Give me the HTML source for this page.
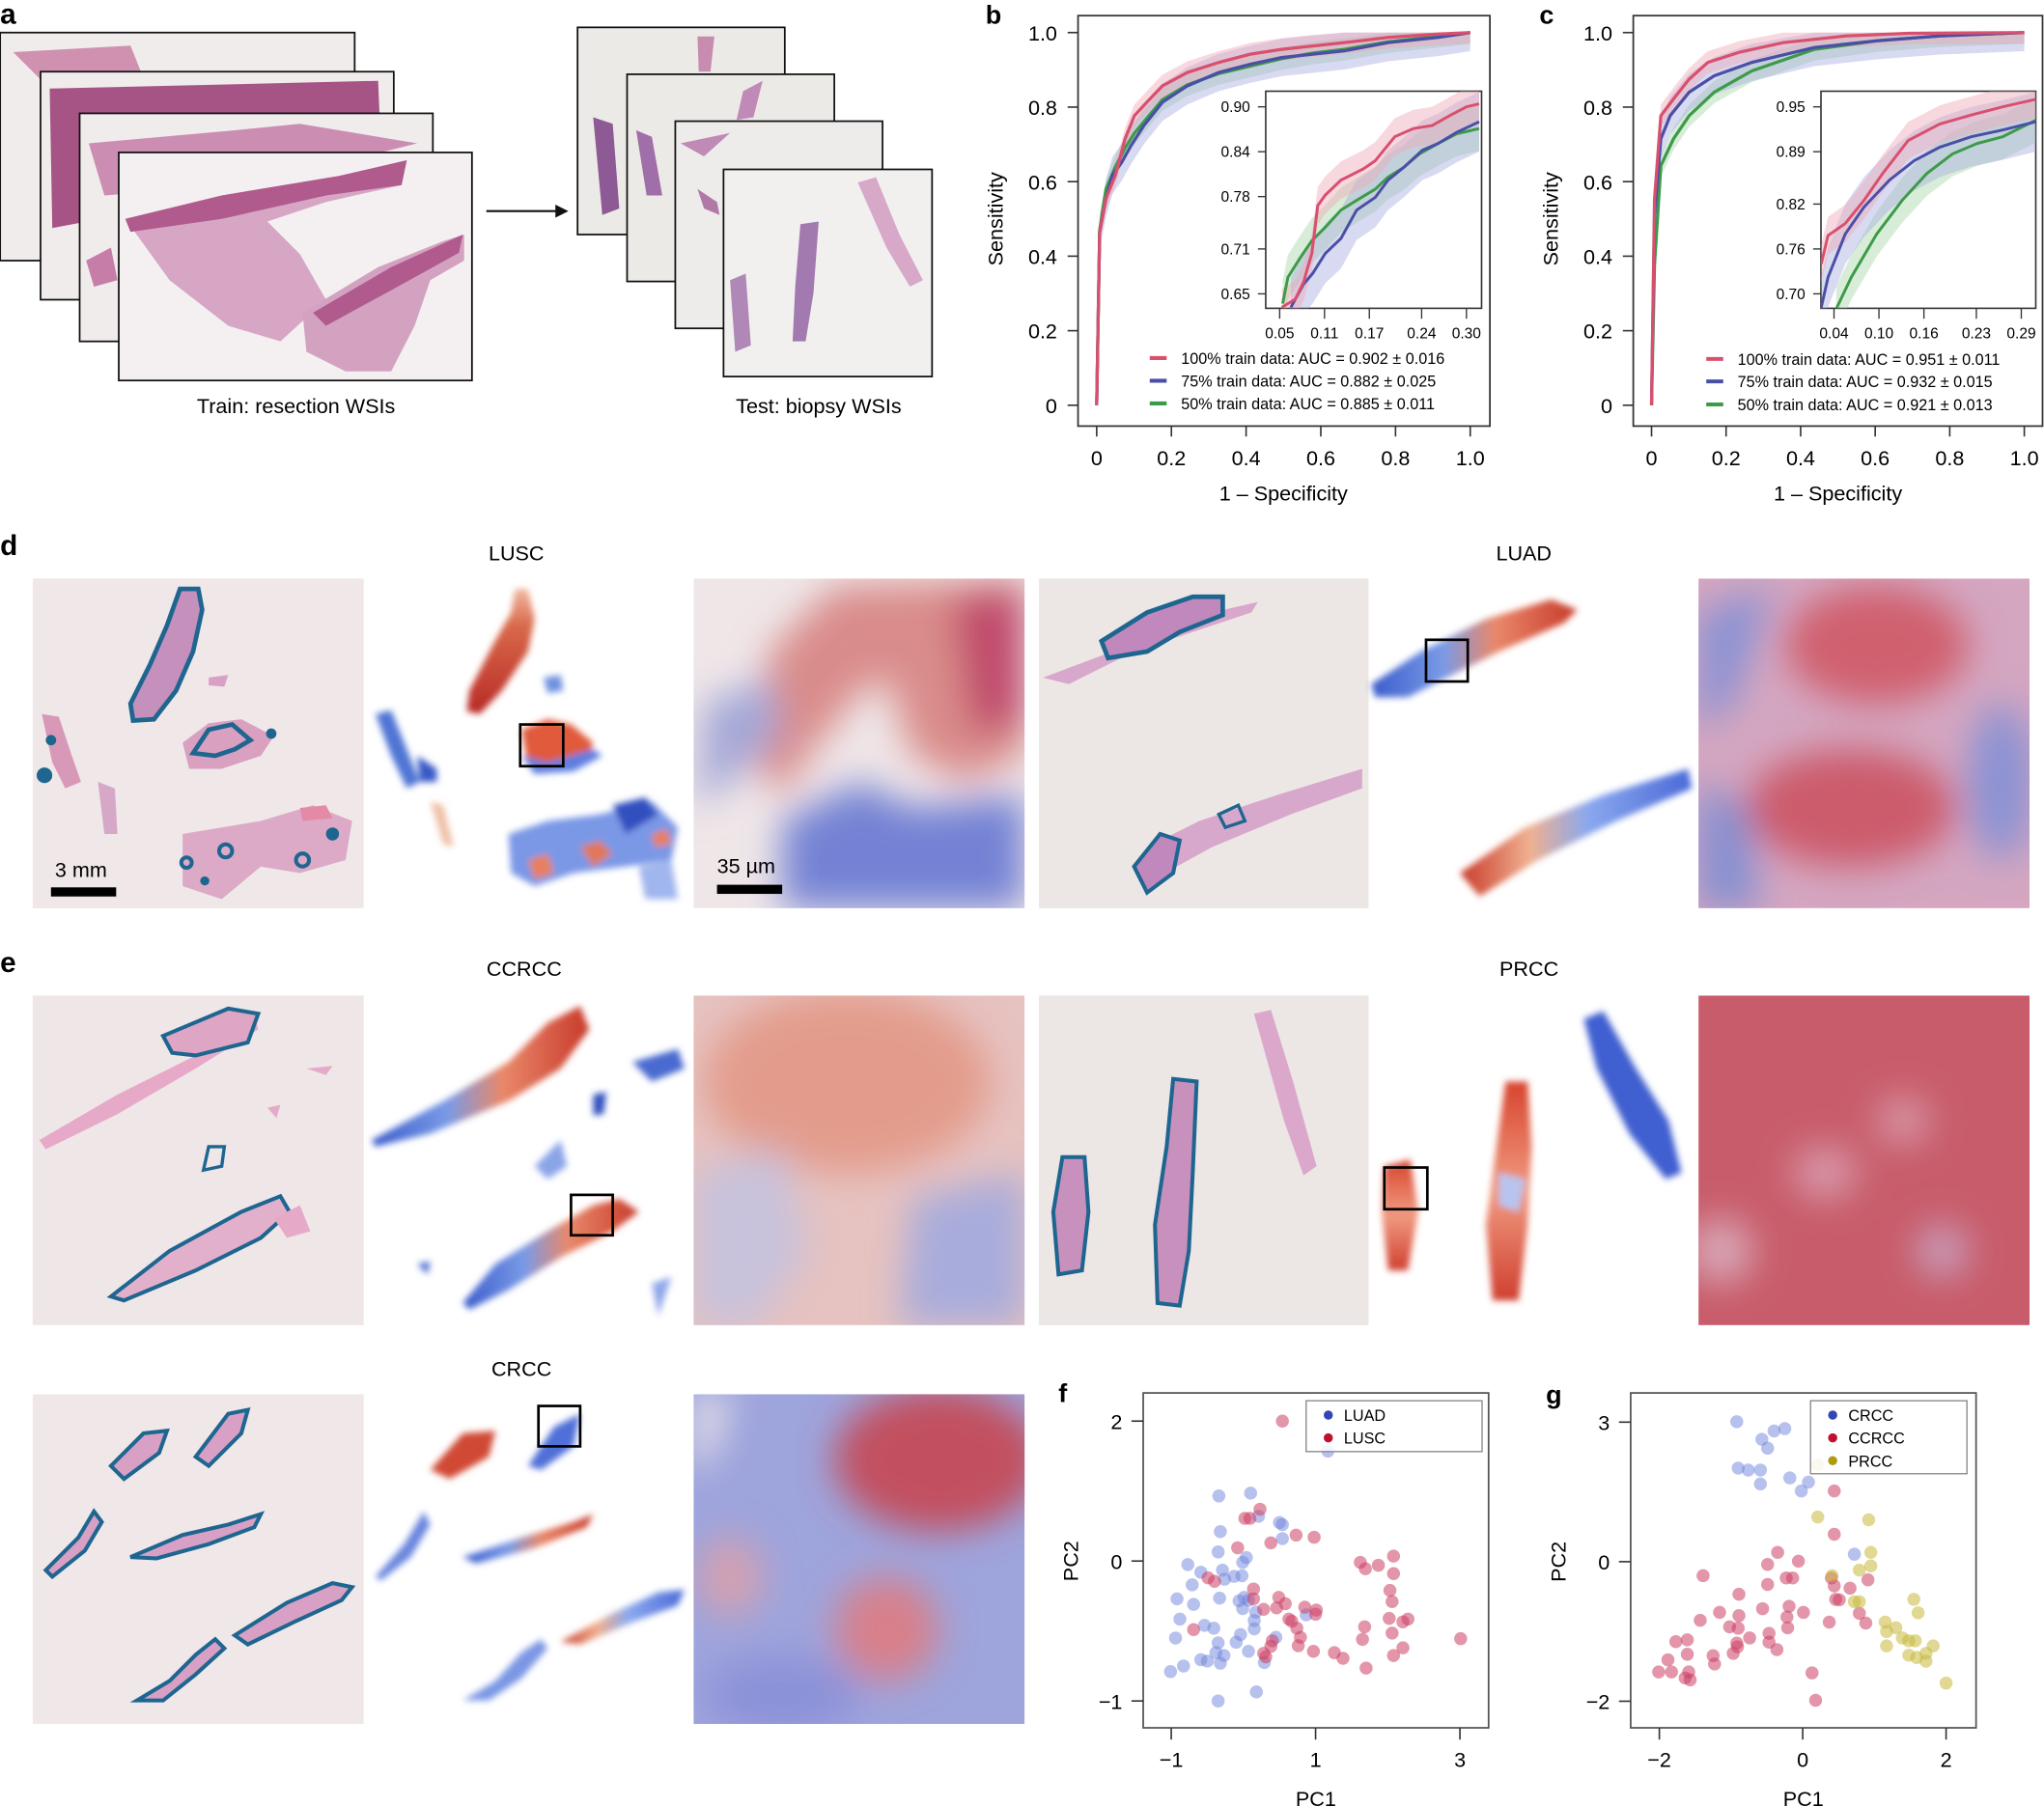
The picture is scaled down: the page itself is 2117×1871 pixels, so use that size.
<!DOCTYPE html>
<html><head><meta charset="utf-8"><style>
html,body{margin:0;padding:0;background:#fff;}
svg{display:block;font-family:"Liberation Sans",Arial,sans-serif;}
</style></head><body>
<svg id="fig" xmlns="http://www.w3.org/2000/svg" width="2117" height="1871" viewBox="0 0 1568 1386">
<defs>
<filter id="bl" x="-20%" y="-20%" width="140%" height="140%"><feGaussianBlur stdDeviation="2.5"/></filter>
<filter id="bl8" x="-30%" y="-30%" width="160%" height="160%"><feGaussianBlur stdDeviation="14"/></filter>
<clipPath id="c1"><rect x="532" y="444" width="254" height="253"/></clipPath>
<clipPath id="c2"><rect x="1303" y="444" width="254" height="253"/></clipPath>
<clipPath id="c3"><rect x="532" y="764" width="254" height="253"/></clipPath>
<clipPath id="c4"><rect x="1303" y="764" width="254" height="253"/></clipPath>
<clipPath id="c5"><rect x="532" y="1070" width="254" height="253"/></clipPath>
<linearGradient id="redstrip" x1="0" y1="0" x2="0" y2="1"><stop offset="0" stop-color="#f0b8a0"/><stop offset="0.3" stop-color="#d8684a"/><stop offset="1" stop-color="#b82a26"/></linearGradient>
<linearGradient id="brband" x1="0" y1="0" x2="1" y2="0"><stop offset="0" stop-color="#3b5ccc"/><stop offset="0.35" stop-color="#7a9ae6"/><stop offset="0.6" stop-color="#e9886a"/><stop offset="1" stop-color="#c83a2a"/></linearGradient>
<linearGradient id="rbband" x1="0" y1="0" x2="1" y2="0"><stop offset="0" stop-color="#c83a2a"/><stop offset="0.3" stop-color="#f0b090"/><stop offset="0.55" stop-color="#8aa8ee"/><stop offset="1" stop-color="#4a6ad8"/></linearGradient>
<linearGradient id="spot" x1="0" y1="0" x2="0" y2="1"><stop offset="0" stop-color="#d8442e"/><stop offset="0.5" stop-color="#f09a80"/><stop offset="1" stop-color="#d04030"/></linearGradient>
</defs>

<!-- panel a -->
<g>
<text x="0" y="18" font-size="22" font-weight="bold">a</text>
<rect x="0" y="25" width="272" height="175" fill="#f0ecec" stroke="#111" stroke-width="1.3"/>
<path d="M10,40 L100,35 L110,60 L40,70 Z" fill="#c77aa0" opacity="0.8"/>
<rect x="31" y="55" width="271" height="175" fill="#f0ecec" stroke="#111" stroke-width="1.3"/>
<path d="M38,68 L290,62 L292,110 L180,120 L120,160 L40,175 Z" fill="#a65485"/>
<rect x="61" y="87" width="271" height="175" fill="#f0ecec" stroke="#111" stroke-width="1.3"/>
<path d="M68,110 L180,100 L230,95 L320,110 L200,140 L80,150 Z" fill="#c67da8" opacity="0.85"/>
<path d="M66,200 L85,190 L90,215 L72,220 Z" fill="#c67da8"/>
<rect x="91" y="117" width="271" height="175" fill="#f4f0f1" stroke="#111" stroke-width="1.3"/>
<path d="M96,168 L170,150 L260,135 L312,123 L308,142 L250,155 L205,170 L230,195 L250,230 L215,262 L175,250 L130,215 Z" fill="#d6a6c4"/>
<path d="M96,168 L170,150 L260,135 L312,123 L308,142 L250,150 L170,168 L100,178 Z" fill="#b05a8e"/>
<path d="M232,240 L290,205 L340,185 L356,180 L356,200 L330,215 L318,250 L300,285 L265,285 L235,270 Z" fill="#d3a2c0"/>
<path d="M240,240 L300,205 L355,180 L352,194 L305,220 L250,250 Z" fill="#b05a8e"/>
<text x="227" y="317" font-size="16" text-anchor="middle">Train: resection WSIs</text>
<line x1="373" y1="162" x2="428" y2="162" stroke="#111" stroke-width="1.5"/>
<path d="M436,162 L426,157 L426,167 Z" fill="#111"/>
<rect x="443" y="21" width="159" height="159" fill="#eceae6" stroke="#111" stroke-width="1.3"/>
<path d="M455,90 L470,95 L475,160 L462,165 Z" fill="#8e5a96"/>
<path d="M535,28 L548,28 L545,55 L536,55 Z" fill="#c88cb0"/>
<rect x="481" y="57" width="159" height="159" fill="#eceae6" stroke="#111" stroke-width="1.3"/>
<path d="M570,70 L585,62 L578,90 L565,92 Z" fill="#c08ab6"/>
<path d="M488,100 L500,105 L508,150 L496,150 Z" fill="#a06ea8"/>
<rect x="518" y="93" width="159" height="159" fill="#eeeceb" stroke="#111" stroke-width="1.3"/>
<path d="M522,110 L560,102 L540,120 Z" fill="#c08ab6"/>
<path d="M535,145 L550,155 L552,165 L540,160 Z" fill="#b07aa8"/>
<rect x="555" y="130" width="160" height="159" fill="#f2f0ef" stroke="#111" stroke-width="1.3"/>
<path d="M560,215 L572,210 L576,265 L564,270 Z" fill="#b088b8"/>
<path d="M614,172 L628,170 L624,225 L618,262 L608,262 L610,220 Z" fill="#a27ab0"/>
<path d="M658,140 L672,136 L690,180 L708,215 L698,220 L680,190 Z" fill="#d7a8c8"/>
<text x="628" y="317" font-size="16" text-anchor="middle">Test: biopsy WSIs</text>
</g>

<text x="756" y="18" font-size="20" font-weight="bold">b</text>
<text x="1181" y="18" font-size="20" font-weight="bold">c</text>
<text x="0" y="426" font-size="22" font-weight="bold">d</text>
<text x="0" y="746" font-size="22" font-weight="bold">e</text>
<text x="812" y="1076" font-size="20" font-weight="bold">f</text>
<text x="1186" y="1077" font-size="20" font-weight="bold">g</text>

<g id="rocB"></g>
<g id="rocC"></g>

<!-- panel d -->
<text x="396" y="430" font-size="16" text-anchor="middle">LUSC</text>
<text x="1169" y="430" font-size="16" text-anchor="middle">LUAD</text>
<g>
<rect x="25" y="444" width="254" height="253" fill="#efe7e8"/>
<path d="M138,452 L152,452 L155,468 L148,500 L135,530 L118,552 L102,553 L100,540 L115,510 L128,480 Z" fill="#c590bc" stroke="#1e6690" stroke-width="3.5"/>
<path d="M140,570 L160,555 L185,552 L210,565 L200,580 L170,590 L145,590 Z" fill="#d9a0c0"/>
<path d="M148,578 L160,560 L178,556 L192,568 L180,575 L165,580 Z" fill="none" stroke="#1e6690" stroke-width="3.5"/>
<circle cx="208" cy="563" r="4" fill="#1e6690"/>
<path d="M160,520 L175,518 L172,527 L160,526 Z" fill="#d8a0c4"/>
<path d="M32,548 L45,550 L55,580 L62,600 L50,605 L40,585 Z" fill="#d898b8"/>
<circle cx="39" cy="568" r="4" fill="#1e6690"/><circle cx="34" cy="595" r="6" fill="#1e6690"/>
<path d="M75,600 L88,605 L90,640 L80,640 Z" fill="#d6a8c8"/>
<path d="M140,640 L200,630 L240,618 L270,630 L265,660 L230,670 L200,665 L170,690 L140,680 Z" fill="#dcaac6"/>
<path d="M230,620 L250,618 L255,628 L232,630 Z" fill="#e58aa6"/>
<circle cx="143" cy="662" r="4" fill="none" stroke="#1e6690" stroke-width="3"/>
<circle cx="173" cy="653" r="5" fill="none" stroke="#1e6690" stroke-width="3"/>
<circle cx="232" cy="660" r="5" fill="none" stroke="#1e6690" stroke-width="3"/>
<circle cx="255" cy="640" r="5" fill="#1e6690"/>
<circle cx="157" cy="676" r="3.5" fill="#1e6690"/>
<rect x="39" y="681" width="50" height="7" fill="#000"/>
<text x="42" y="673" font-size="16">3 mm</text>
</g>
<g>
<rect x="279" y="444" width="253" height="253" fill="#fff"/>
<g filter="url(#bl)">
<path d="M395,452 L405,452 L410,475 L405,500 L385,530 L368,548 L358,546 L360,530 L378,495 L392,470 Z" fill="url(#redstrip)"/>
<path d="M288,548 L300,545 L312,575 L322,600 L312,605 L300,580 Z" fill="#4f74d4"/>
<path d="M320,580 L335,590 L335,600 L322,600 Z" fill="#3858c8"/>
<path d="M330,615 L340,618 L348,650 L340,648 Z" fill="#f0c0a8"/>
<path d="M400,560 L420,552 L438,556 L455,570 L450,585 L430,590 L405,588 Z" fill="#e05a3a"/>
<path d="M400,580 L420,585 L455,575 L462,580 L440,592 L410,594 Z" fill="#5e7ee0"/>
<path d="M417,520 L430,518 L432,530 L420,532 Z" fill="#7090e0"/>
<path d="M390,640 L420,630 L460,625 L500,615 L520,635 L515,660 L480,665 L440,670 L410,680 L392,670 Z" fill="#7a98e6"/>
<path d="M470,618 L495,612 L505,625 L480,640 Z" fill="#3050c0"/>
<path d="M405,660 L420,655 L425,670 L410,675 Z" fill="#e8805e"/>
<path d="M445,650 L460,645 L470,655 L455,665 Z" fill="#e07858"/>
<path d="M490,665 L515,660 L520,690 L495,690 Z" fill="#a0b6ee"/>
<path d="M500,640 L512,636 L515,648 L502,650 Z" fill="#e8805e"/>
</g>
<rect x="399" y="556" width="33" height="32" fill="none" stroke="#000" stroke-width="2"/>
</g>
<g clip-path="url(#c1)">
<rect x="532" y="444" width="254" height="253" fill="#efe6e8"/>
<g filter="url(#bl8)">
<path d="M590,500 L640,450 L786,444 L786,580 L740,600 L700,580 L680,520 L660,530 L620,580 L600,610 L580,590 Z" fill="#d98c8a"/>
<path d="M730,460 L786,450 L786,560 L745,560 Z" fill="#c04a6a"/>
<path d="M540,540 L590,520 L600,560 L560,600 L535,620 Z" fill="#a4a8d8"/>
<path d="M600,630 L660,600 L700,620 L786,610 L786,697 L600,697 Z" fill="#7382d4"/>
</g>
<rect x="550" y="679" width="50" height="7" fill="#000"/>
<text x="550" y="670" font-size="16">35 µm</text>
</g>
<g>
<rect x="797" y="444" width="253" height="253" fill="#ece7e4"/>
<path d="M800,520 L840,505 L880,490 L930,470 L965,462 L960,470 L900,490 L860,505 L820,525 Z" fill="#d8a8cc"/>
<path d="M845,492 L880,470 L915,458 L938,458 L938,472 L905,485 L880,500 L850,505 Z" fill="#c088bc" stroke="#1e6690" stroke-width="3.5"/>
<path d="M880,650 L920,630 L980,610 L1045,590 L1045,605 L990,625 L930,650 L890,672 Z" fill="#d8a8cc"/>
<path d="M870,665 L890,640 L905,645 L900,670 L880,685 Z" fill="#c088bc" stroke="#1e6690" stroke-width="3"/>
<path d="M935,625 L950,618 L955,630 L940,635 Z" fill="none" stroke="#1e6690" stroke-width="2.5"/>
</g>
<g>
<rect x="1050" y="444" width="253" height="253" fill="#fff"/>
<g filter="url(#bl)">
<path d="M1052,525 L1090,500 L1140,475 L1190,460 L1210,468 L1200,478 L1150,500 L1110,520 L1080,535 L1055,535 Z" fill="url(#brband)"/>
<path d="M1120,670 L1170,635 L1230,610 L1295,590 L1298,605 L1240,630 L1180,660 L1135,688 Z" fill="url(#rbband)"/>
</g>
<rect x="1094" y="491" width="32" height="32" fill="none" stroke="#000" stroke-width="2"/>
</g>
<g clip-path="url(#c2)">
<rect x="1303" y="444" width="254" height="253" fill="#d4a6c0"/>
<g filter="url(#bl8)">
<path d="M1303,470 L1360,450 L1330,540 L1303,560 Z" fill="#8a92d4"/>
<path d="M1303,600 L1340,620 L1350,697 L1303,697 Z" fill="#8490d2"/>
<ellipse cx="1440" cy="495" rx="70" ry="45" fill="#d0606e"/>
<ellipse cx="1420" cy="620" rx="80" ry="45" fill="#cc5c6c"/>
<ellipse cx="1535" cy="600" rx="25" ry="60" fill="#8a92d4"/>
</g>
</g>

<!-- panel e -->
<text x="402" y="749" font-size="16" text-anchor="middle">CCRCC</text>
<text x="1173" y="749" font-size="16" text-anchor="middle">PRCC</text>
<g>
<rect x="25" y="764" width="254" height="253" fill="#efe6e8"/>
<path d="M30,875 L90,840 L150,810 L195,778 L198,790 L150,820 L90,855 L35,882 Z" fill="#e6aac8"/>
<path d="M125,795 L175,774 L198,778 L190,800 L150,810 L132,808 Z" fill="#dea6c4" stroke="#1e6690" stroke-width="3"/>
<path d="M160,880 L172,880 L170,895 L156,898 Z" fill="none" stroke="#1e6690" stroke-width="2.5"/>
<path d="M85,995 L130,960 L185,930 L215,918 L222,930 L200,950 L150,975 L95,998 Z" fill="#e3b0cc" stroke="#1e6690" stroke-width="3"/>
<path d="M210,935 L230,925 L238,945 L220,950 Z" fill="#e6aac8"/>
<path d="M235,820 L255,818 L250,825 Z" fill="#e6aac8"/>
<path d="M205,850 L215,848 L212,858 Z" fill="#e6aac8"/>
</g>
<g>
<rect x="279" y="764" width="253" height="253" fill="#fff"/>
<g filter="url(#bl)">
<path d="M285,875 L340,845 L390,815 L420,785 L445,772 L452,790 L430,820 L390,845 L330,870 L288,880 Z" fill="url(#brband)"/>
<path d="M355,1000 L380,970 L420,945 L455,925 L475,920 L490,930 L470,945 L430,965 L390,990 L360,1005 Z" fill="url(#brband)"/>
<path d="M485,815 L520,805 L525,820 L500,830 Z" fill="#4a6ad0"/>
<path d="M455,840 L465,838 L463,855 L455,856 Z" fill="#3050c0"/>
<path d="M410,895 L430,875 L435,895 L420,905 Z" fill="#8aa4e8"/>
<path d="M500,985 L515,980 L505,1010 Z" fill="#90a8ea"/>
<path d="M320,970 L330,968 L328,978 Z" fill="#5070d0"/>
</g>
<rect x="438" y="917" width="32" height="31" fill="none" stroke="#000" stroke-width="2"/>
</g>
<g clip-path="url(#c3)">
<rect x="532" y="764" width="254" height="253" fill="#e6c2c0"/>
<g filter="url(#bl8)">
<ellipse cx="650" cy="830" rx="110" ry="70" fill="#e39c8c"/>
<path d="M532,900 L600,880 L620,960 L580,1017 L532,1017 Z" fill="#c8c2dc"/>
<path d="M700,920 L786,900 L786,1017 L690,1017 Z" fill="#a8acdc"/>
</g>
</g>
<g>
<rect x="797" y="764" width="253" height="253" fill="#ece6e5"/>
<path d="M815,888 L832,888 L835,930 L830,975 L812,978 L808,930 Z" fill="#c890bc" stroke="#1e6690" stroke-width="3"/>
<path d="M900,828 L918,830 L915,900 L912,960 L905,1002 L888,1000 L886,940 L895,880 Z" fill="#c890bc" stroke="#1e6690" stroke-width="3"/>
<path d="M962,778 L975,775 L992,830 L1010,895 L1000,902 L985,860 Z" fill="#dba8cc"/>
</g>
<g>
<rect x="1050" y="764" width="253" height="253" fill="#fff"/>
<g filter="url(#bl)">
<path d="M1215,782 L1230,776 L1255,820 L1280,860 L1290,900 L1278,905 L1250,870 L1225,820 Z" fill="#3f5fd0"/>
<path d="M1062,895 L1082,890 L1088,930 L1080,975 L1065,975 L1060,930 Z" fill="url(#spot)"/>
<path d="M1155,830 L1172,830 L1175,880 L1172,940 L1165,998 L1145,998 L1140,940 L1148,880 Z" fill="url(#spot)"/>
<path d="M1150,900 L1170,905 L1165,930 L1150,925 Z" fill="#b8c4ee"/>
</g>
<rect x="1062" y="896" width="33" height="32" fill="none" stroke="#000" stroke-width="2"/>
</g>
<g clip-path="url(#c4)">
<rect x="1303" y="764" width="254" height="253" fill="#c85c6a"/>
<g filter="url(#bl8)">
<ellipse cx="1400" cy="900" rx="25" ry="20" fill="#d89aaa"/>
<ellipse cx="1460" cy="860" rx="20" ry="18" fill="#d89aaa"/>
<ellipse cx="1490" cy="960" rx="20" ry="20" fill="#c8a0c0"/>
<ellipse cx="1320" cy="960" rx="25" ry="25" fill="#d8a8b8"/>
</g>
</g>
<text x="400" y="1056" font-size="16" text-anchor="middle">CRCC</text>
<g>
<rect x="25" y="1070" width="254" height="253" fill="#efe7e8"/>
<g fill="#d8a0c4" stroke="#1e6690" stroke-width="3">
<path d="M85,1125 L110,1100 L128,1098 L122,1115 L95,1135 Z"/>
<path d="M150,1118 L175,1085 L190,1082 L185,1100 L160,1125 Z"/>
<path d="M35,1205 L60,1180 L72,1160 L78,1168 L65,1190 L40,1210 Z"/>
<path d="M100,1195 L140,1178 L175,1170 L200,1162 L195,1172 L160,1185 L120,1196 Z"/>
<path d="M105,1305 L130,1290 L150,1270 L165,1258 L172,1265 L150,1285 L125,1305 Z"/>
<path d="M180,1255 L220,1230 L255,1215 L270,1218 L262,1228 L225,1245 L190,1262 Z"/>
</g>
</g>
<g>
<rect x="279" y="1070" width="253" height="253" fill="#fff"/>
<g filter="url(#bl)">
<path d="M330,1128 L355,1100 L380,1098 L375,1118 L345,1135 Z" fill="#d04a34"/>
<path d="M405,1125 L425,1095 L445,1085 L440,1110 L415,1128 Z" fill="#5070d8"/>
<path d="M288,1210 L310,1185 L325,1160 L330,1170 L315,1195 L292,1213 Z" fill="#6a86de"/>
<path d="M355,1195 L400,1180 L440,1168 L455,1162 L450,1172 L410,1188 L365,1200 Z" fill="url(#brband)"/>
<path d="M355,1305 L380,1290 L400,1268 L415,1258 L420,1265 L400,1288 L375,1305 Z" fill="#7a96e4"/>
<path d="M430,1260 L470,1238 L505,1222 L525,1220 L520,1232 L485,1245 L445,1262 Z" fill="url(#rbband)"/>
</g>
<rect x="413" y="1079" width="32" height="31" fill="none" stroke="#000" stroke-width="2"/>
</g>
<g clip-path="url(#c5)">
<rect x="532" y="1070" width="254" height="253" fill="#9ea4dc"/>
<g filter="url(#bl8)">
<ellipse cx="720" cy="1120" rx="80" ry="55" fill="#c2505e"/>
<ellipse cx="680" cy="1250" rx="40" ry="40" fill="#d8808a"/>
<ellipse cx="560" cy="1210" rx="25" ry="30" fill="#d4a0b0"/>
<path d="M532,1070 L560,1070 L545,1120 L532,1130 Z" fill="#eee8ea"/>
<ellipse cx="600" cy="1300" rx="60" ry="30" fill="#8c92d8"/>
</g>
</g>

<g id="pcaF"></g>
<g id="pcaG"></g>
</svg>

<script>
// ---------- ROC data (panel b) ----------
const bFpr100=[0,0.008,0.025,0.050,0.076,0.101,0.134,0.176,0.243,0.327,0.411,0.495,0.579,0.663,0.780,0.914,1];
const bTpr100=[0,0.465,0.555,0.617,0.715,0.777,0.813,0.857,0.893,0.920,0.942,0.955,0.964,0.973,0.987,0.996,1];
const bFpr75=[0,0.008,0.025,0.042,0.067,0.092,0.126,0.176,0.243,0.327,0.411,0.495,0.579,0.663,0.780,0.914,1];
const bTpr75=[0,0.465,0.554,0.617,0.652,0.697,0.750,0.813,0.857,0.893,0.915,0.933,0.942,0.951,0.973,0.987,1];
const bFpr50=[0,0.008,0.025,0.05,0.076,0.101,0.134,0.176,0.243,0.327,0.411,0.495,0.579,0.663,0.780,0.914,1];
const bTpr50=[0,0.47,0.58,0.64,0.69,0.73,0.77,0.82,0.86,0.89,0.91,0.93,0.945,0.955,0.975,0.99,1];
const bInFpr100=[0.053,0.071,0.082,0.093,0.101,0.111,0.132,0.162,0.178,0.204,0.229,0.254,0.279,0.300,0.317];
const bInTpr100=[0.632,0.643,0.666,0.704,0.768,0.782,0.802,0.817,0.828,0.860,0.871,0.875,0.889,0.900,0.904];
const bInFpr75=[0.065,0.082,0.094,0.111,0.132,0.153,0.178,0.195,0.216,0.241,0.262,0.287,0.317];
const bInTpr75=[0.632,0.663,0.677,0.704,0.724,0.762,0.779,0.802,0.819,0.842,0.851,0.866,0.880];
const bInFpr50=[0.054,0.061,0.078,0.093,0.111,0.132,0.153,0.178,0.195,0.216,0.237,0.262,0.287,0.317];
const bInTpr50=[0.637,0.672,0.699,0.721,0.739,0.762,0.775,0.790,0.806,0.819,0.837,0.851,0.864,0.871];
const bLegend=["100% train data: AUC = 0.902 \u00b1 0.016","75% train data: AUC = 0.882 \u00b1 0.025","50% train data: AUC = 0.885 \u00b1 0.011"];
const bInXTicks=[0.05,0.11,0.17,0.24,0.30];
const bInXLabels=["0.05","0.11","0.17","0.24","0.30"];
const bInYTicks=[0.65,0.71,0.78,0.84,0.90];
const bInYLabels=["0.65","0.71","0.78","0.84","0.90"];
// ---------- ROC data (panel c) ----------
const cFpr100=[0,0.008,0.025,0.059,0.101,0.151,0.235,0.353,0.521,0.689,1];
const cTpr100=[0,0.554,0.777,0.822,0.875,0.920,0.947,0.973,0.991,0.998,1];
const cFpr75=[0,0.008,0.025,0.050,0.101,0.168,0.269,0.437,0.605,0.773,1];
const cTpr75=[0,0.51,0.715,0.777,0.840,0.884,0.920,0.960,0.978,0.991,1];
const cFpr50=[0,0.008,0.025,0.059,0.101,0.168,0.269,0.437,0.605,0.773,1];
const cTpr50=[0,0.376,0.643,0.715,0.777,0.840,0.897,0.955,0.978,0.991,1];
const cInFpr100=[0.023,0.032,0.055,0.080,0.105,0.139,0.181,0.223,0.265,0.309];
const cInTpr100=[0.740,0.778,0.794,0.825,0.861,0.905,0.927,0.939,0.950,0.960];
const cInFpr75=[0.023,0.032,0.055,0.080,0.114,0.147,0.181,0.223,0.265,0.309];
const cInTpr75=[0.682,0.722,0.780,0.816,0.852,0.878,0.896,0.910,0.919,0.930];
const cInFpr50=[0.043,0.063,0.097,0.131,0.164,0.198,0.231,0.265,0.309];
const cInTpr50=[0.680,0.722,0.780,0.825,0.861,0.887,0.901,0.910,0.932];
const cLegend=["100% train data: AUC = 0.951 \u00b1 0.011","75% train data: AUC = 0.932 \u00b1 0.015","50% train data: AUC = 0.921 \u00b1 0.013"];
const cInXTicks=[0.04,0.10,0.16,0.23,0.29];
const cInXLabels=["0.04","0.10","0.16","0.23","0.29"];
const cInYTicks=[0.70,0.76,0.82,0.89,0.95];
const cInYLabels=["0.70","0.76","0.82","0.89","0.95"];
const mainXTicks=[0,0.2,0.4,0.6,0.8,1.0];
const mainXLabels=["0","0.2","0.4","0.6","0.8","1.0"];
const mainYTicks=[0,0.2,0.4,0.6,0.8,1.0];
const mainYLabels=["0","0.2","0.4","0.6","0.8","1.0"];
const seriesNames=["100pct","75pct","50pct"];
// ---------- PCA data (panel f) ----------
const fLuadX=[-0.34,0.10,0.21,-0.32,0.50,0.54,0.54,-0.35,0.04,-0.01,-0.77,-0.59,-0.29,-0.13,-0.02,-0.71,-0.26,-0.92,-0.69,-0.33,-0.06,0.01,0.07,-0.01,0.17,0.15,-0.88,-0.54,-0.41,0.15,-0.94,-0.35,-0.04,-0.10,0.07,0.45,-0.38,-0.59,-0.50,-0.27,-0.32,0.29,-0.83,-1.01,0.18,-0.35,0.87,1.17];
const fLuadY=[0.93,0.97,0.64,0.42,0.55,0.52,0.32,0.13,0.05,-0.02,-0.05,-0.16,-0.13,-0.22,-0.21,-0.34,-0.26,-0.54,-0.62,-0.53,-0.57,-0.52,-0.56,-0.68,-0.73,-0.85,-0.83,-0.92,-0.96,-0.97,-1.10,-1.17,-1.05,-1.16,-1.29,-1.09,-1.31,-1.41,-1.43,-1.35,-1.46,-1.45,-1.50,-1.58,-1.87,-2.0,-0.77,1.57];
const fLuscX=[0.54,0.23,0.02,0.09,0.73,0.98,0.38,-0.08,-0.49,-0.40,0.14,0.14,0.49,0.58,0.46,0.28,0.85,1.01,1.00,0.63,0.67,0.74,0.79,0.76,0.40,0.38,0.28,0.31,-0.69,0.97,1.26,1.38,1.62,1.69,1.87,2.08,2.08,2.03,2.06,2.02,2.28,2.21,1.68,1.65,2.06,2.21,2.08,1.70,3.01];
const fLuscY=[2.0,0.74,0.61,0.61,0.37,0.34,0.26,0.19,-0.24,-0.29,-0.40,-0.54,-0.52,-0.61,-0.67,-0.69,-0.66,-0.70,-0.76,-0.83,-0.86,-0.96,-1.09,-1.21,-1.14,-1.22,-1.32,-1.37,-0.98,-1.29,-1.31,-1.39,-0.02,-0.11,-0.06,0.07,-0.18,-0.42,-0.58,-0.82,-0.83,-0.87,-0.94,-1.12,-1.03,-1.24,-1.35,-1.53,-1.11];
const fXTicks=[-1,1,3]; const fXLabels=["\u22121","1","3"];
const fYTicks=[2,0,-2]; const fYLabels=["2","0","\u22121"];
// ---------- PCA data (panel g) ----------
const gCrccX=[-0.92,-0.40,-0.25,-0.57,-0.49,-0.90,-0.76,-0.59,-0.59,-0.18,0.08,-0.02,0.72];
const gCrccY=[3.01,2.81,2.86,2.63,2.44,2.01,1.97,1.97,1.67,1.80,1.71,1.52,0.16];
const gCcrccX=[0.44,0.44,-0.35,-0.06,-0.49,-1.39,-0.23,-0.14,-0.49,0.40,0.44,-0.89,0.46,0.51,0.66,0.91,-1.16,-0.56,-0.19,0.01,-0.89,-0.22,-1.43,-1.02,-0.90,-0.21,0.37,0.88,-0.74,-0.47,-0.47,-0.92,-0.91,-1.77,-1.61,-0.36,-0.97,-1.25,-1.61,-1.88,-1.23,-2.01,-1.83,-1.59,-1.64,-1.57,0.13,0.18,0.79];
const gCcrccY=[1.52,0.59,0.20,0.01,-0.06,-0.30,-0.35,-0.35,-0.49,-0.35,-0.52,-0.70,-0.81,-0.82,-0.57,-0.39,-1.09,-1.01,-0.96,-1.09,-1.16,-1.19,-1.26,-1.40,-1.43,-1.42,-1.30,-1.32,-1.64,-1.54,-1.73,-1.75,-1.83,-1.72,-1.68,-1.89,-1.97,-2.02,-1.99,-2.11,-2.20,-2.37,-2.37,-2.37,-2.50,-2.54,-2.39,-2.98,-1.11];
const gPrccX=[0.21,0.21,0.92,0.95,0.95,0.79,0.41,0.72,0.79,1.55,1.61,1.15,1.17,1.30,1.39,1.48,1.57,1.17,1.82,1.48,1.59,1.72,1.72,2.00];
const gPrccY=[2.08,0.96,0.90,0.20,-0.09,-0.18,-0.30,-0.86,-0.86,-0.81,-1.10,-1.30,-1.50,-1.42,-1.64,-1.70,-1.70,-1.81,-1.81,-2.01,-2.06,-1.97,-2.14,-2.61];
const gXTicks=[-2,0,2]; const gXLabels=["\u22122","0","2"];
const gYTicks=[3,0,-3]; const gYLabels=["3","0","\u22122"];

const NS="http://www.w3.org/2000/svg";
function mk(tag,attrs,parent){const e=document.createElementNS(NS,tag);for(const k in attrs)e.setAttribute(k,attrs[k]);parent.appendChild(e);return e;}
function lin(d0,d1,r0,r1){return v=>r0+(v-d0)/(d1-d0)*(r1-r0);}
const COLORS=["#d8506e","#4a4fa6","#3d9a48"];
const BAND=["#f0a8b8","#a8aee0","#a8d8a8"];

function drawRoc(g,cfg){
  const sx=lin(0,1,cfg.x0,cfg.x1), sy=lin(0,1,cfg.y0,cfg.y1);
  const box=mk("rect",{x:cfg.bx0,y:cfg.by0,width:cfg.bx1-cfg.bx0,height:cfg.by1-cfg.by0,fill:"none",stroke:"#333","stroke-width":1.3},g);
  
  
  mainXTicks.forEach((t,i)=>{
    const l=mk("line",{x1:sx(t),x2:sx(t),y1:cfg.by1,y2:cfg.by1+8,stroke:"#333","stroke-width":1.2},g);
    
    
    const tx=mk("text",{x:sx(t),y:cfg.by1+30,"font-size":16,"text-anchor":"middle"},g);tx.textContent=mainXLabels[i];
    
    
  });
  mainYTicks.forEach((t,i)=>{
    const l=mk("line",{x1:cfg.bx0-8,x2:cfg.bx0,y1:sy(t),y2:sy(t),stroke:"#333","stroke-width":1.2},g);
    
    
    const tx=mk("text",{x:cfg.bx0-16,y:sy(t)+6,"font-size":16,"text-anchor":"end"},g);tx.textContent=mainYLabels[i];
    
    
  });
  const xl=mk("text",{x:(cfg.x0+cfg.x1)/2,y:cfg.by1+57,"font-size":16,"text-anchor":"middle"},g);xl.textContent="1 \u2013 Specificity";
  
  
  const yl=mk("text",{x:0,y:0,"font-size":16,"text-anchor":"middle",transform:`translate(${cfg.bx0-58},${(cfg.y0+cfg.y1)/2}) rotate(-90)`},g);yl.textContent="Sensitivity";
  
  
  const bw=[0.03,0.05,0.03];
  [2,1,0].forEach(i=>{
    const xs=cfg.fpr[i],ys=cfg.tpr[i];
    let up=xs.map((x,j)=>sx(x)+","+sy(Math.min(1,ys[j]+bw[i]))).join(" ");
    let lo=xs.map((x,j)=>sx(x)+","+sy(Math.max(0,ys[j]-bw[i]))).reverse().join(" ");
    const b=mk("polygon",{points:up+" "+lo,fill:BAND[i],opacity:0.45},g);
    
    
  });
  [2,1,0].forEach(i=>{
    const pts=cfg.fpr[i].map((x,j)=>sx(x)+","+sy(cfg.tpr[i][j])).join(" ");
    const p=mk("polyline",{points:pts,fill:"none",stroke:COLORS[i],"stroke-width":2.4},g);
    
    
  });
  const ix=lin(cfg.ixt[0],cfg.ixt[cfg.ixt.length-1],cfg.ix0,cfg.ix1);
  const iy=lin(cfg.iyt[0],cfg.iyt[cfg.iyt.length-1],cfg.iy0,cfg.iy1);
  const ib=mk("rect",{x:cfg.ibx0,y:cfg.iby0,width:cfg.ibx1-cfg.ibx0,height:cfg.iby1-cfg.iby0,fill:"#fff",stroke:"#333","stroke-width":1.2},g);
  
  
  const cp=mk("clipPath",{id:cfg.id+"clip"},g);
  mk("rect",{x:cfg.ibx0,y:cfg.iby0,width:cfg.ibx1-cfg.ibx0,height:cfg.iby1-cfg.iby0},cp);
  const ig=mk("g",{"clip-path":`url(#${cfg.id}clip)`},g);
  
  
  const ibw=[0.025,0.04,0.03];
  [2,1,0].forEach(i=>{
    const xs=cfg.ifpr[i],ys=cfg.itpr[i];
    let up=xs.map((x,j)=>ix(x)+","+iy(ys[j]+ibw[i])).join(" ");
    let lo=xs.map((x,j)=>ix(x)+","+iy(ys[j]-ibw[i])).reverse().join(" ");
    const b=mk("polygon",{points:up+" "+lo,fill:BAND[i],opacity:0.45},ig);
    
    
  });
  [2,1,0].forEach(i=>{
    const pts=cfg.ifpr[i].map((x,j)=>ix(x)+","+iy(cfg.itpr[i][j])).join(" ");
    const p=mk("polyline",{points:pts,fill:"none",stroke:COLORS[i],"stroke-width":2.2},ig);
    
    
  });
  cfg.ixt.forEach((t,i)=>{
    const l=mk("line",{x1:ix(t),x2:ix(t),y1:cfg.iby1,y2:cfg.iby1+8,stroke:"#333"},g);
    
    
    const tx=mk("text",{x:ix(t),y:cfg.iby1+23,"font-size":11.5,"text-anchor":"middle"},g);tx.textContent=cfg.ixl[i];
    
    
  });
  cfg.iyt.forEach((t,i)=>{
    const l=mk("line",{x1:cfg.ibx0-6,x2:cfg.ibx0,y1:iy(t),y2:iy(t),stroke:"#333"},g);
    
    
    const tx=mk("text",{x:cfg.ibx0-12,y:iy(t)+4,"font-size":11.5,"text-anchor":"end"},g);tx.textContent=cfg.iyl[i];
    
    
  });
  cfg.legend.forEach((s,i)=>{
    const y=cfg.legY[i];
    const l=mk("line",{x1:cfg.legX,x2:cfg.legX+13,y1:y,y2:y,stroke:COLORS[i],"stroke-width":3},g);
    
    
    const tx=mk("text",{x:cfg.legX+24,y:y+4.5,"font-size":12},g);tx.textContent=s;
    
    
  });
}
drawRoc(document.getElementById("rocB"),{id:"b",x0:841.3,x1:1127.9,y0:311,y1:25,bx0:827,bx1:1143,by0:12,by1:327,
  fpr:[bFpr100,bFpr75,bFpr50],tpr:[bTpr100,bTpr75,bTpr50],
  ix0:981.7,ix1:1125,iy0:225.5,iy1:82,ibx0:971,ibx1:1136.6,iby0:70,iby1:236.6,
  ixt:bInXTicks,ixl:bInXLabels,iyt:bInYTicks,iyl:bInYLabels,
  ifpr:[bInFpr100,bInFpr75,bInFpr50],itpr:[bInTpr100,bInTpr75,bInTpr50],
  legend:bLegend,legX:882,legY:[274.8,292.2,309.6]});
drawRoc(document.getElementById("rocC"),{id:"c",x0:1267,x1:1553,y0:311,y1:25,bx0:1253,bx1:1567,by0:12,by1:327,
  fpr:[cFpr100,cFpr75,cFpr50],tpr:[cTpr100,cTpr75,cTpr50],
  ix0:1407,ix1:1550.7,iy0:225.5,iy1:82,ibx0:1397,ibx1:1561.8,iby0:70,iby1:236.6,
  ixt:cInXTicks,ixl:cInXLabels,iyt:cInYTicks,iyl:cInYLabels,
  ifpr:[cInFpr100,cInFpr75,cInFpr50],itpr:[cInTpr100,cInTpr75,cInTpr50],
  legend:cLegend,legX:1309,legY:[275.5,292.7,310.4]});

function drawPca(g,cfg){
  const sx=lin(cfg.xt[0],cfg.xt[cfg.xt.length-1],cfg.x0,cfg.x1);
  const sy=lin(cfg.yt[0],cfg.yt[cfg.yt.length-1],cfg.y0,cfg.y1);
  const box=mk("rect",{x:cfg.bx0,y:cfg.by0,width:cfg.bx1-cfg.bx0,height:cfg.by1-cfg.by0,fill:"none",stroke:"#555","stroke-width":1.3},g);
  
  
  cfg.xt.forEach((t,i)=>{
    const l=mk("line",{x1:sx(t),x2:sx(t),y1:cfg.by1,y2:cfg.by1+9,stroke:"#333","stroke-width":1.2},g);
    
    
    const tx=mk("text",{x:sx(t),y:cfg.by1+30,"font-size":16,"text-anchor":"middle"},g);tx.textContent=cfg.xl[i];
    
    
  });
  cfg.yt.forEach((t,i)=>{
    const l=mk("line",{x1:cfg.bx0-9,x2:cfg.bx0,y1:sy(t),y2:sy(t),stroke:"#333","stroke-width":1.2},g);
    
    
    const tx=mk("text",{x:cfg.bx0-16,y:sy(t)+6,"font-size":16,"text-anchor":"end"},g);tx.textContent=cfg.yl[i];
    
    
  });
  const xl=mk("text",{x:(cfg.bx0+cfg.bx1)/2,y:cfg.by1+60,"font-size":16,"text-anchor":"middle"},g);xl.textContent="PC1";
  
  
  const yl=mk("text",{x:0,y:0,"font-size":16,"text-anchor":"middle",transform:`translate(${cfg.bx0-50},${sy(0)}) rotate(-90)`},g);yl.textContent="PC2";
  
  
  cfg.series.forEach(s=>{
    s.x.forEach((x,j)=>{
      const c=mk("circle",{cx:sx(x),cy:sy(s.y[j]),r:5,fill:s.color,opacity:s.op},g);
      
      
    });
  });
  const lb=mk("rect",{x:cfg.lx0,y:cfg.ly0,width:cfg.lx1-cfg.lx0,height:cfg.ly1-cfg.ly0,fill:"#fff","fill-opacity":0.85,stroke:"#888","stroke-width":1},g);
  
  
  cfg.series.forEach((s,i)=>{
    const y=cfg.ly0+11+i*17.5;
    const c=mk("circle",{cx:cfg.lx0+17,cy:y,r:3.5,fill:s.legColor},g);
    
    
    const tx=mk("text",{x:cfg.lx0+29,y:y+4.5,"font-size":12},g);tx.textContent=s.label;
    
    
  });
}
drawPca(document.getElementById("pcaF"),{x0:898.5,x1:1120,y0:1090.6,y1:1305.4,bx0:877,bx1:1142,by0:1069,by1:1326,
  xt:fXTicks,xl:fXLabels,yt:fYTicks,yl:fYLabels,lx0:1002,lx1:1137,ly0:1075,ly1:1114,
  series:[{name:"luad",label:"LUAD",x:fLuadX,y:fLuadY,color:"#6f84dc",op:0.5,legColor:"#3246b8"},
          {name:"lusc",label:"LUSC",x:fLuscX,y:fLuscY,color:"#cc4064",op:0.55,legColor:"#c0102e"}]});
drawPca(document.getElementById("pcaG"),{x0:1273,x1:1493,y0:1091.4,y1:1305.6,bx0:1251,bx1:1516,by0:1069,by1:1326,
  xt:gXTicks,xl:gXLabels,yt:gYTicks,yl:gYLabels,lx0:1389,lx1:1509,ly0:1075,ly1:1131,
  series:[{name:"crcc",label:"CRCC",x:gCrccX,y:gCrccY,color:"#6f84dc",op:0.5,legColor:"#3246b8"},
          {name:"ccrcc",label:"CCRCC",x:gCcrccX,y:gCcrccY,color:"#cc4064",op:0.55,legColor:"#c0102e"},
          {name:"prcc",label:"PRCC",x:gPrccX,y:gPrccY,color:"#c8b83c",op:0.55,legColor:"#b09a10"}]});
</script>
</body></html>
